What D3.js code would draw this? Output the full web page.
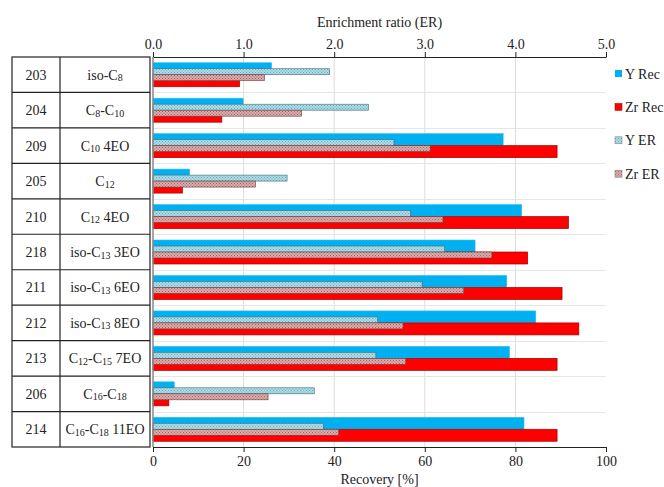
<!DOCTYPE html>
<html><head><meta charset="utf-8">
<script src="https://cdn.jsdelivr.net/npm/d3@7"></script>
<style>
body{margin:0;background:#fff;}
svg{display:block;font-family:"Liberation Serif","Times New Roman",serif;}
svg text{font-family:"Liberation Serif","Times New Roman",serif;}
</style></head>
<body><svg id="c" width="664" height="487"></svg>
<script>
// ---- data ----
const codes = ["203","204","209","205","210","218","211","212","213","206","214"];
// names as segments: [text, isSubscript]
const names = [
  [["iso-C",0],["8",1]],
  [["C",0],["8",1],["-C",0],["10",1]],
  [["C",0],["10",1],[" 4EO",0]],
  [["C",0],["12",1]],
  [["C",0],["12",1],[" 4EO",0]],
  [["iso-C",0],["13",1],[" 3EO",0]],
  [["iso-C",0],["13",1],[" 6EO",0]],
  [["iso-C",0],["13",1],[" 8EO",0]],
  [["C",0],["12",1],["-C",0],["15",1],[" 7EO",0]],
  [["C",0],["16",1],["-C",0],["18",1]],
  [["C",0],["16",1],["-C",0],["18",1],[" 11EO",0]]
];
const yRec  = [26.2, 19.9, 77.3, 8.1, 81.4, 71.1, 78.1, 84.5, 78.7, 4.7, 81.9];
const zrRec = [19.1, 15.2, 89.2, 6.5, 91.7, 82.7, 90.3, 94.0, 89.2, 3.5, 89.2];
const yER   = [1.95, 2.38, 2.66, 1.48, 2.84, 3.22, 2.97, 2.48, 2.46, 1.78, 1.88];
const zrER  = [1.23, 1.64, 3.06, 1.13, 3.20, 3.74, 3.43, 2.76, 2.79, 1.27, 2.05];
const recTicks = [0,20,40,60,80,100];
const erTicks = [0,1,2,3,4,5];
const legendItems = [["Y Rec","blue"],["Zr Rec","red"],["Y ER","yer"],["Zr ER","zrer"]];

// ---- layout ----
const FF = "Liberation Serif, Times New Roman, serif";
const svg = d3.select("#c");
const L = 153, R = 606, T = 57, B = 447;
const xRec = d3.scaleLinear().domain([0,100]).range([L,R]);
const xER = d3.scaleLinear().domain([0,5]).range([L,R]);
const yBand = d3.scaleBand().domain(codes).range([T,B]);

// patterns
const defs = svg.append("defs");
function dotPattern(id, bg, dot){
  const p = defs.append("pattern").attr("id",id).attr("width",3).attr("height",3).attr("patternUnits","userSpaceOnUse");
  p.append("rect").attr("width",3).attr("height",3).attr("fill",bg);
  p.append("rect").attr("x",0).attr("y",0).attr("width",1).attr("height",1).attr("fill",dot);
  p.append("rect").attr("x",1.5).attr("y",1.5).attr("width",1).attr("height",1).attr("fill",dot);
}
dotPattern("pY","#aadde9","#6fa7b3");
dotPattern("pZ","#dcaaaa","#9a6a6a");
const fills = {blue:"#00b0f0", red:"#ff0000", yer:"url(#pY)", zrer:"url(#pZ)"};

// gridlines
svg.append("g").selectAll("line").data(recTicks.slice(1,5)).join("line")
  .attr("x1",d=>xRec(d)).attr("x2",d=>xRec(d)).attr("y1",T).attr("y2",B)
  .attr("stroke","#dcdcdc").attr("stroke-width",1);
svg.append("g").selectAll("line").data(codes.slice(1)).join("line")
  .attr("x1",L).attr("x2",R).attr("y1",d=>Math.round(yBand(d))+0.5).attr("y2",d=>Math.round(yBand(d))+0.5)
  .attr("stroke","#e6e6e6").attr("stroke-width",1);

// bars
const bw = yBand.bandwidth();
const barH = 12, erH = 6;
const g = svg.append("g");
codes.forEach((c,i)=>{
  const top = yBand(c) + (bw - 2*barH)/2;
  g.append("rect").attr("x",L).attr("y",top).attr("width",xRec(yRec[i])-L).attr("height",barH)
    .attr("fill",fills.blue).attr("stroke","#33c0f2").attr("stroke-width",0.6);
  g.append("rect").attr("x",L).attr("y",top+barH).attr("width",xRec(zrRec[i])-L).attr("height",barH)
    .attr("fill",fills.red).attr("stroke","#a00000").attr("stroke-width",0.7);
  g.append("rect").attr("x",L).attr("y",top+barH-erH).attr("width",xER(yER[i])-L).attr("height",erH)
    .attr("fill",fills.yer).attr("stroke","#4a6a70").attr("stroke-width",0.6);
  g.append("rect").attr("x",L).attr("y",top+barH).attr("width",xER(zrER[i])-L).attr("height",erH)
    .attr("fill",fills.zrer).attr("stroke","#6a4040").attr("stroke-width",0.6);
});

// axes
const axTop = svg.append("g").attr("transform",`translate(0,${T})`)
  .call(d3.axisTop(xER).tickValues(erTicks).tickFormat(d3.format(".1f")).tickSize(5).tickSizeOuter(0));
const axBot = svg.append("g").attr("transform",`translate(0,${B})`)
  .call(d3.axisBottom(xRec).tickValues(recTicks).tickSize(5).tickSizeOuter(0));
[axTop,axBot].forEach(a=>{
  a.attr("font-family",FF);
  a.select(".domain").attr("stroke","#222").attr("stroke-width",1.2);
  a.selectAll(".tick line").attr("stroke","#222");
  a.selectAll("text").attr("font-family",FF).attr("font-size",14).attr("fill","#222");
});
axTop.selectAll("text").attr("y",-8);
axBot.selectAll("text").attr("y",9);
svg.append("line").attr("x1",L).attr("x2",L).attr("y1",T).attr("y2",B)
  .attr("stroke","#888").attr("stroke-width",1.5);

svg.append("text").attr("x",(L+R)/2).attr("y",27).attr("text-anchor","middle").attr("font-family",FF)
  .attr("font-size",14).attr("fill","#222").text("Enrichment ratio (ER)");
svg.append("text").attr("x",(L+R)/2).attr("y",484).attr("text-anchor","middle").attr("font-family",FF)
  .attr("font-size",14).attr("fill","#222").text("Recovery [%]");

// table
const tL = 12, tM = 60, tR = 150;
const tg = svg.append("g").attr("font-family",FF);
tg.append("rect").attr("x",tL).attr("y",T).attr("width",tR-tL).attr("height",B-T)
  .attr("fill","none").attr("stroke","#222").attr("stroke-width",1.2);
tg.append("line").attr("x1",tM).attr("x2",tM).attr("y1",T).attr("y2",B).attr("stroke","#222").attr("stroke-width",1.2);
tg.selectAll("line.row").data(codes.slice(1)).join("line").attr("class","row")
  .attr("x1",tL).attr("x2",tR).attr("y1",d=>yBand(d)).attr("y2",d=>yBand(d))
  .attr("stroke","#222").attr("stroke-width",1.2);
codes.forEach((c,i)=>{
  const cy = yBand(c)+bw/2+5;
  tg.append("text").attr("x",(tL+tM)/2).attr("y",cy).attr("text-anchor","middle")
    .attr("font-size",14).attr("fill","#222").text(c);
  const t = tg.append("text").attr("x",(tM+tR)/2).attr("y",cy).attr("text-anchor","middle")
    .attr("font-size",14).attr("fill","#222");
  let prevSub = false;
  names[i].forEach(([s,sub])=>{
    const ts = t.append("tspan").text(s);
    if(sub){ ts.attr("font-size",10).attr("dy", prevSub?0:1.5); }
    else if(prevSub){ ts.attr("dy",-1.5); }
    prevSub = !!sub;
  });
});

// legend
const lg = svg.append("g").attr("font-family",FF);
legendItems.forEach(([name,key],i)=>{
  const y = 74 + i*33.4;
  lg.append("rect").attr("x",615).attr("y",y-4).attr("width",7).attr("height",7)
    .attr("fill",fills[key]).attr("stroke",key==="red"?"#a00000":(key==="blue"?"none":"#777")).attr("stroke-width",0.5);
  lg.append("text").attr("x",625).attr("y",y+4.5).attr("font-size",14).attr("fill","#222").text(name);
});
</script></body></html>
